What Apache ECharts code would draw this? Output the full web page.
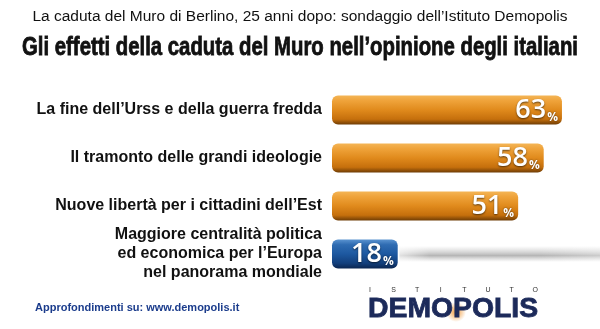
<!DOCTYPE html>
<html><head><meta charset="utf-8">
<script src="https://cdn.jsdelivr.net/npm/echarts@6/dist/echarts.min.js"></script>
<style>html,body{margin:0;padding:0;background:#fff}#c{width:600px;height:329px}</style>
</head><body><div id="c"></div>
<script>
var subtitleText = 'La caduta del Muro di Berlino, 25 anni dopo: sondaggio dell’Istituto Demopolis';
var titleText = 'Gli effetti della caduta del Muro nell’opinione degli italiani';
var categories = [
  "La fine dell’Urss e della guerra fredda",
  "Il tramonto delle grandi ideologie",
  "Nuove libertà per i cittadini dell’Est",
  "Maggiore centralità politica\ned economica per l’Europa\nnel panorama mondiale"
];
var values = [63, 58, 51, 18];
var barColors = ["orange", "orange", "orange", "blue"];
var footerText = 'Approfondimenti su: www.demopolis.it';
var logoSmall = ['I','S','T','I','T','U','T','O'];
var logoBig = 'DEMOPOLIS';

var grads = {
  orange: new echarts.graphic.LinearGradient(0,0,0,1,[
    {offset:0,color:'#f4b556'},{offset:0.18,color:'#efa33a'},{offset:0.5,color:'#e08a1c'},{offset:0.82,color:'#c56f0c'},{offset:1,color:'#6e3c05'}]),
  blue: new echarts.graphic.LinearGradient(0,0,0,1,[
    {offset:0,color:'#5a93d0'},{offset:0.18,color:'#2f6cb2'},{offset:0.5,color:'#1d58a0'},{offset:0.82,color:'#123f7c'},{offset:1,color:'#0a2550'}])
};

// measure title to condense it to the reference width
var cv = document.createElement('canvas').getContext('2d');
cv.font = 'bold 25px "Liberation Sans", Arial, sans-serif';
var titleW = cv.measureText(titleText).width;
var titleScale = 556 / titleW;

var chart = echarts.init(document.getElementById('c'), null, {renderer:'canvas'});
var graphics = [
  {type:'text', left:'center', top:9, style:{text:subtitleText, fontSize:15.5, fill:'#111', fontFamily:'"Liberation Sans", Arial, sans-serif'}},
  {type:'text', x:300, y:48, scaleX:titleScale, style:{text:titleText, fontSize:25, fontWeight:'bold', fill:'#111', stroke:'#111', lineWidth:0.8, align:'center', verticalAlign:'middle', fontFamily:'"Liberation Sans", Arial, sans-serif'}},
  {type:'text', left:35, top:302, style:{text:footerText, fontSize:11, fontWeight:'bold', fill:'#1b3c8c', fontFamily:'"Liberation Sans", Arial, sans-serif'}},
  {type:'circle', shape:{cx:456, cy:312, r:10}, style:{fill:new echarts.graphic.RadialGradient(0.5,0.5,0.5,[{offset:0,color:'rgba(240,150,50,0.95)'},{offset:1,color:'rgba(240,150,50,0)'}])}},
  {type:'text', x:368, y:296, scaleX:1.05, style:{text:logoBig, fontSize:27, fontWeight:'bold', fill:'#1c2a5a', stroke:'#1c2a5a', lineWidth:0.8, fontFamily:'"Liberation Sans", Arial, sans-serif'}}
];
logoSmall.forEach(function(ch,i){
  graphics.push({type:'text', x:370 + i*23.6, y:287, style:{text:ch, fontSize:7, fill:'#333', align:'center', fontFamily:'"Liberation Sans", Arial, sans-serif'}});
});

chart.setOption({
  animation:false,
  backgroundColor:'#fff',
  grid:{left:332, top:86, width:255.5, height:192, containLabel:false},
  xAxis:{type:'value', min:0, max:70, show:false},
  yAxis:{type:'category', inverse:true, data:categories,
    axisLine:{show:false}, axisTick:{show:false},
    axisLabel:{margin:10, fontSize:16, fontWeight:'bold', color:'#111', lineHeight:19, align:'right',
      fontFamily:'"Liberation Sans", Arial, sans-serif'}},
  series:[{
    type:'bar', barWidth:29, z:3,
    data: values.map(function(v,i){return {value:v, itemStyle:{color:grads[barColors[i]], borderRadius:6}};}),
    label:{show:true, position:'insideRight', distance:4,
      formatter:function(p){return '{v|'+p.value+'}{p|%}';},
      rich:{
        v:{fontSize:27, fontWeight:600, color:'#fff', fontFamily:'"Open Sans", sans-serif', textShadowColor:'rgba(0,0,0,0.6)', textShadowBlur:2, textShadowOffsetY:1, verticalAlign:'bottom', lineHeight:28},
        p:{fontSize:12, fontWeight:'bold', color:'#fff', fontFamily:'"Open Sans", sans-serif', textShadowColor:'rgba(0,0,0,0.6)', textShadowBlur:2, verticalAlign:'bottom', lineHeight:20, padding:[0,0,0,1]}
      }}
  }],
  graphic: graphics
});

// soft shadow streak to the right of the last bar, positioned from the axis scale
var lastIdx = values.length - 1;
var endPt = chart.convertToPixel({gridIndex:0}, [values[lastIdx], lastIdx]);
graphics.push({type:'rect', z:1, shape:{x:endPt[0]+2, y:endPt[1]-8, width:600-endPt[0]-2, height:16},
  style:{fill:new echarts.graphic.LinearGradient(0,0,0,1,[
    {offset:0,color:'rgba(160,160,160,0)'},{offset:0.35,color:'rgba(150,150,150,0.35)'},{offset:0.6,color:'rgba(120,120,120,0.55)'},{offset:1,color:'rgba(160,160,160,0)'}])}});
graphics.push({type:'rect', z:2, shape:{x:endPt[0]+2, y:endPt[1]-10, width:600-endPt[0]-2, height:20},
  style:{fill:new echarts.graphic.LinearGradient(0,0,1,0,[
    {offset:0,color:'rgba(255,255,255,0.6)'},{offset:0.15,color:'rgba(255,255,255,0)'},{offset:0.7,color:'rgba(255,255,255,0)'},{offset:1,color:'rgba(255,255,255,0.3)'}])}});
chart.setOption({graphic: graphics});
</script></body></html>
